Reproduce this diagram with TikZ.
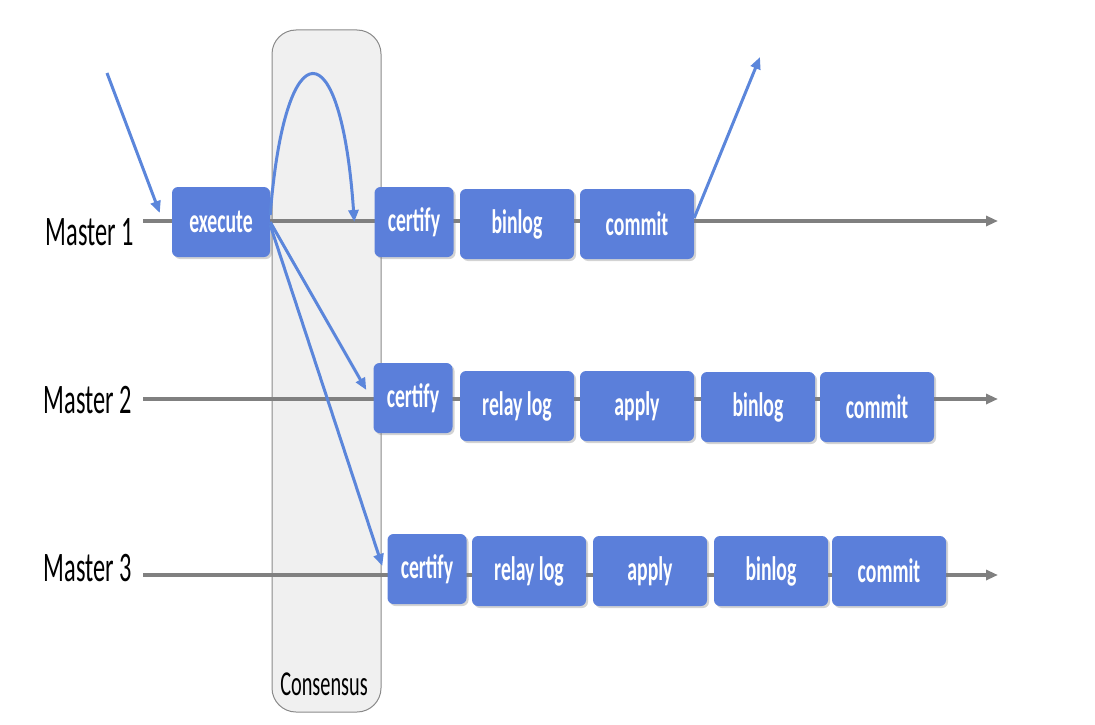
\documentclass[tikz,border=0pt]{standalone}
\usepackage{fontspec}
\setmainfont{Carlito}
\newfontfamily\narrowfont[FakeStretch=0.58]{Carlito}
\usepackage{tikz}
\usetikzlibrary{positioning,arrows.meta,shadows,backgrounds}
\definecolor{boxblue}{HTML}{5B7FDA}
\definecolor{flowblue}{HTML}{5B86DB}
\definecolor{railgrey}{HTML}{808080}
\definecolor{consfill}{HTML}{F0F0F0}
\definecolor{consline}{HTML}{8A8A8A}

\begin{document}
\begin{tikzpicture}[x=1pt, y=-1pt,
    stage/.style={fill=boxblue, rounded corners=6pt, minimum height=70pt, minimum width=114pt,
                  inner sep=0pt, text=white, font=\narrowfont\bfseries\fontsize{34}{36}\selectfont,
                  drop shadow={opacity=0.35, shadow xshift=2pt, shadow yshift=-2pt}},
    master/.style={anchor=base west, font=\narrowfont\fontsize{42}{46}\selectfont},
    rail/.style={draw=railgrey, line width=3.5pt, -{Triangle[length=12pt,width=10pt]}},
    flow/.style={draw=flowblue, line width=3pt, -{Triangle[length=12pt,width=10pt]}},
  ]
  \useasboundingbox (0,0) rectangle (1095,725);

  % consensus band
  \node[draw=consline, fill=consfill, line width=1pt, rounded corners=24pt,
        minimum width=109pt, minimum height=682pt] (cons) at (326.5,371) {};
  \node[font=\narrowfont\fontsize{35}{37}\selectfont, anchor=base] (constext) at (324,695) {Consensus};

  % row labels
  \node[master] (m1) at (42,245) {Master 1};
  \node[master] (m2) at (40,413) {Master 2};
  \node[master] (m3) at (40,581) {Master 3};

  % rails
  \coordinate (s1) at (143,221);  \coordinate (e1) at (998,221);
  \coordinate (s2) at (143,399);  \coordinate (e2) at (998,399);
  \coordinate (s3) at (143,575);  \coordinate (e3) at (998,575);
  \draw[rail] (s1) -- (e1);
  \draw[rail] (s2) -- (e2);
  \draw[rail] (s3) -- (e3);

  % master 1
  \node[stage, minimum width=98pt] (exec) at (221,222) {execute};
  \node[stage, minimum width=79pt] (cert1) at (414,222) {certify};
  \node[stage] (bin1) at (517,224) {binlog};
  \node[stage] (com1) at (637,224) {commit};

  % master 2
  \node[stage, minimum width=79pt] (cert2) at (413,398) {certify};
  \node[stage] (relay2) at (517,406) {relay log};
  \node[stage] (apply2) at (637,406) {apply};
  \node[stage] (bin2) at (758,407) {binlog};
  \node[stage] (com2) at (877,407) {commit};

  % master 3
  \node[stage, minimum width=79pt] (cert3) at (427,569) {certify};
  \node[stage] (relay3) at (529,571) {relay log};
  \node[stage] (apply3) at (650,571) {apply};
  \node[stage] (bin3) at (771,571) {binlog};
  \node[stage] (com3) at (889,571) {commit};

  % flows
  \coordinate (client) at (107,73);
  \coordinate (reply) at (760,57);
  \draw[flow] (client) -- ([xshift=-12pt,yshift=9pt]exec.west);
  \draw[flow] ([yshift=7pt]exec.east) .. controls (285,27) and (341,27) .. ([xshift=-20pt]cert1.west);
  \draw[flow] (exec.east) -- ([xshift=-7pt,yshift=8pt]cert2.west);
  \draw[flow] ([yshift=-3pt]exec.east) -- ([xshift=-5pt,yshift=3pt]cert3.west);
  \draw[flow] ([yshift=6pt]com1.east) -- (reply);
\end{tikzpicture}
\end{document}
